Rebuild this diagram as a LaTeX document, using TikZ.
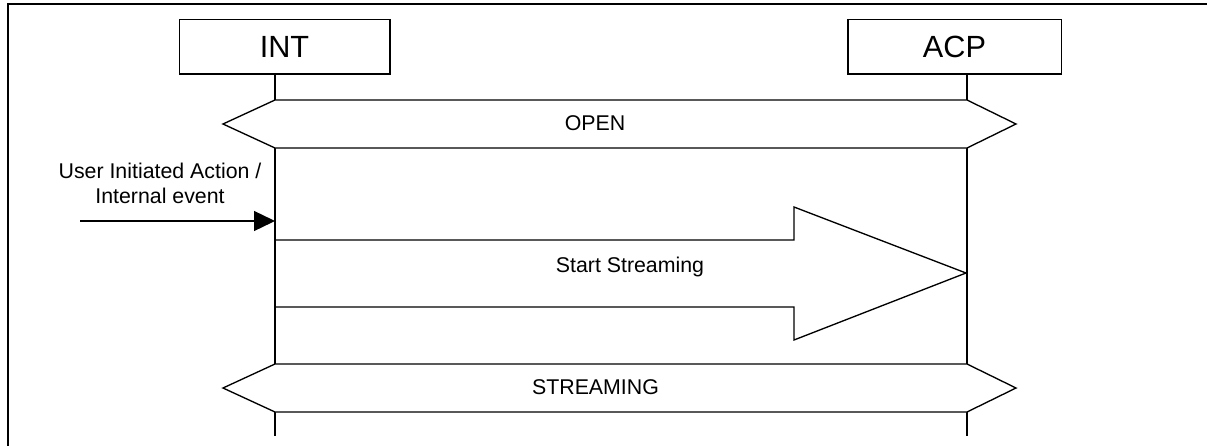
\documentclass[tikz,border=0pt]{standalone}
\usepackage{fontspec}
\setmainfont{Liberation Sans}
\usetikzlibrary{arrows.meta}
\usetikzlibrary{positioning}

\begin{document}
\begin{tikzpicture}[x=0.75pt,y=-0.75pt]
            \tikzset{entity/.style={draw, line width=1pt, minimum width=158pt, minimum height=41pt, inner sep=0pt, font=\fontsize{23}{27}\selectfont}}
            \tikzset{lifeline/.style={line width=1pt}}
            \tikzset{state/.style={draw, line width=1pt, fill=white}}
            \tikzset{label/.style={inner sep=0pt, font=\fontsize{16}{19}\selectfont, align=center}}
            \useasboundingbox (0,0) rectangle (1207,446);
            \draw[line width=1.5pt] (8,446) -- (8,4) -- (1207,4);

            \node[entity] (int) at (284.5,46.5) {INT};
            \node[entity, minimum width=160pt] (acp) at (954.5,46.5) {ACP};
            \coordinate (int end) at (275,436);
            \coordinate (acp end) at (967,436);
            \draw[lifeline] (int.south -| int end) -- (int end);
            \draw[lifeline] (acp.south -| acp end) -- (acp end);

            \draw[state] (223,124) -- (275,100) -- (967,100) -- (1016,124) -- (967,148) -- (275,148) -- cycle;
            \node[label] (open) at (595,123) {OPEN};

            \node[label] (event) at (160,183.5) {User Initiated Action /\\Internal event};
            \coordinate (event start) at (80,221);
            \draw[line width=1pt, -{Triangle[length=15.75pt, width=15pt]}] (event start) -- (event start -| int end);

            \draw[line width=1pt] (275,240) -- (794,240) -- (794,207) -- (966,273) -- (794,340) -- (794,307) -- (275,307);
            \node[label] (start) at (630,267) {Start Streaming};

            \draw[state] (223,388) -- (275,364) -- (967,364) -- (1016,388) -- (967,412) -- (275,412) -- cycle;
            \node[label] (streaming) at (595.5,387) {STREAMING};
\end{tikzpicture}
\end{document}
